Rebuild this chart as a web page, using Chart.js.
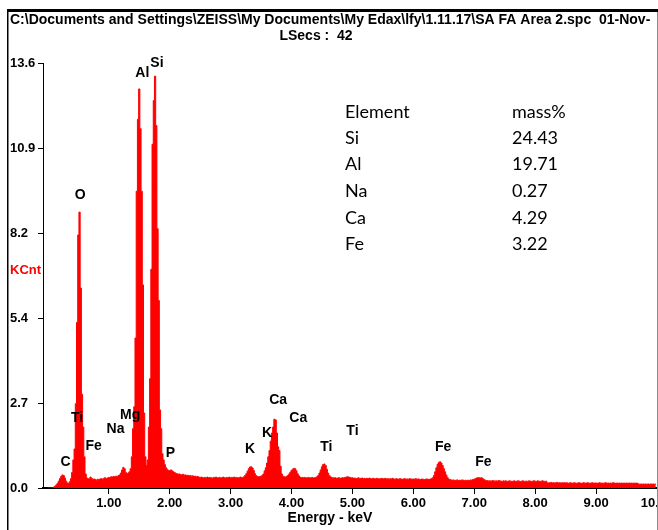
<!DOCTYPE html>
<html>
<head>
<meta charset="utf-8">
<script src="https://cdn.jsdelivr.net/npm/chart.js@4/dist/chart.umd.min.js"></script>
<style>
  html, body { margin: 0; padding: 0; background: #fff; overflow: hidden; }
  canvas { display: block; }
</style>
</head>
<body>
<canvas id="spectrum" width="658" height="530"></canvas>
<script>
// EDS spectrum, 0.02 keV per channel, counts in KCnt (one row = 0.5 keV)
const BIN_KEV = 0.02;
const counts = [
  0, 0, 0, 0, 0.01, 0.03, 0.06, 0.10, 0.15, 0.22, 0.30, 0.37, 0.42, 0.40, 0.32, 0.22, 0.16, 0.15, 0.20, 0.30, 0.50, 0.90, 1.25, 2.70, 5.30,
  8.10, 8.83, 6.40, 3.00, 1.95, 1.00, 0.45, 0.32, 0.30, 0.29, 0.35, 0.31, 0.26, 0.29, 0.27, 0.25, 0.28, 0.27, 0.29, 0.30, 0.28, 0.31, 0.33, 0.30, 0.32,
  0.34, 0.33, 0.36, 0.35, 0.37, 0.36, 0.38, 0.37, 0.40, 0.42, 0.48, 0.58, 0.66, 0.62, 0.50, 0.46, 0.48, 0.52, 0.62, 1.00, 1.90, 2.60, 4.80, 9.50, 11.80,
  12.77, 11.50, 9.50, 6.50, 2.40, 1.00, 0.72, 0.90, 1.95, 3.50, 7.00, 11.00, 12.40, 13.18, 11.60, 8.30, 6.00, 2.50, 1.90, 1.10, 0.90, 0.75, 0.65, 0.60, 0.56,
  0.56, 0.58, 0.55, 0.52, 0.50, 0.47, 0.46, 0.44, 0.45, 0.43, 0.42, 0.44, 0.41, 0.42, 0.40, 0.41, 0.39, 0.40, 0.38, 0.39, 0.37, 0.38, 0.36, 0.37, 0.35,
  0.33, 0.35, 0.34, 0.32, 0.34, 0.33, 0.35, 0.32, 0.34, 0.33, 0.31, 0.34, 0.33, 0.35, 0.32, 0.33, 0.34, 0.32, 0.33, 0.35, 0.33, 0.32, 0.34, 0.33, 0.35,
  0.33, 0.34, 0.32, 0.35, 0.33, 0.34, 0.32, 0.33, 0.35, 0.34, 0.33, 0.36, 0.40, 0.46, 0.54, 0.62, 0.67, 0.68, 0.64, 0.56, 0.46, 0.40, 0.37, 0.36, 0.37,
  0.38, 0.40, 0.45, 0.55, 0.65, 0.80, 1.00, 1.20, 1.50, 1.76, 1.95, 2.20, 2.18, 1.76, 1.32, 1.20, 0.70, 0.45, 0.38, 0.36, 0.35, 0.37, 0.40, 0.44, 0.50,
  0.56, 0.60, 0.63, 0.62, 0.55, 0.46, 0.39, 0.35, 0.33, 0.34, 0.33, 0.34, 0.32, 0.33, 0.34, 0.32, 0.33, 0.34, 0.32, 0.33, 0.34, 0.36, 0.40, 0.48, 0.58,
  0.68, 0.75, 0.77, 0.72, 0.60, 0.48, 0.40, 0.36, 0.34, 0.33, 0.32, 0.33, 0.31, 0.32, 0.33, 0.31, 0.32, 0.33, 0.32, 0.34, 0.35, 0.36, 0.35, 0.34, 0.32,
  0.33, 0.31, 0.32, 0.30, 0.31, 0.33, 0.30, 0.31, 0.32, 0.30, 0.31, 0.29, 0.31, 0.30, 0.32, 0.30, 0.29, 0.31, 0.30, 0.29, 0.31, 0.30, 0.29, 0.30, 0.31,
  0.29, 0.30, 0.31, 0.29, 0.30, 0.28, 0.30, 0.29, 0.31, 0.29, 0.28, 0.30, 0.29, 0.28, 0.30, 0.29, 0.28, 0.29, 0.30, 0.28, 0.29, 0.28, 0.30, 0.29, 0.28,
  0.29, 0.28, 0.30, 0.28, 0.29, 0.28, 0.27, 0.29, 0.28, 0.27, 0.28, 0.29, 0.28, 0.27, 0.29, 0.30, 0.33, 0.40, 0.52, 0.65, 0.76, 0.82, 0.84, 0.80, 0.72,
  0.62, 0.52, 0.42, 0.34, 0.29, 0.27, 0.26, 0.25, 0.26, 0.24, 0.25, 0.26, 0.24, 0.25, 0.24, 0.26, 0.25, 0.24, 0.25, 0.23, 0.25, 0.24, 0.26, 0.25, 0.27,
  0.28, 0.30, 0.32, 0.33, 0.33, 0.32, 0.33, 0.30, 0.27, 0.25, 0.23, 0.24, 0.22, 0.23, 0.22, 0.24, 0.23, 0.22, 0.23, 0.22, 0.24, 0.23, 0.22, 0.21, 0.23,
  0.22, 0.23, 0.21, 0.22, 0.23, 0.22, 0.21, 0.22, 0.23, 0.21, 0.22, 0.23, 0.22, 0.21, 0.22, 0.23, 0.21, 0.22, 0.22, 0.21, 0.23, 0.22, 0.21, 0.22, 0.23,
  0.22, 0.21, 0.23, 0.22, 0.21, 0.22, 0.23, 0.22, 0.21, 0.22, 0.17, 0.16, 0.17, 0.18, 0.16, 0.17, 0.16, 0.17, 0.18, 0.16, 0.17, 0.16, 0.17, 0.16, 0.17,
  0.16, 0.17, 0.15, 0.16, 0.17, 0.16, 0.15, 0.17, 0.16, 0.15, 0.16, 0.17, 0.16, 0.15, 0.16, 0.17, 0.15, 0.16, 0.17, 0.16, 0.15, 0.16, 0.17, 0.15, 0.16,
  0.16, 0.15, 0.16, 0.17, 0.15, 0.16, 0.15, 0.16, 0.17, 0.15, 0.16, 0.15, 0.16, 0.15, 0.17, 0.16, 0.15, 0.16, 0.15, 0.16, 0.15, 0.16, 0.15, 0.16, 0.15,
  0.16, 0.15, 0.16, 0.15, 0.16, 0.15, 0.16, 0.15, 0.16, 0.15, 0.13, 0.12, 0.13, 0.12, 0.13, 0.12, 0.13, 0.12, 0.13, 0.12, 0.13, 0.12, 0.13, 0.12, 0.13
];

// Axis ticks
const xTicks = [1, 2, 3, 4, 5, 6, 7, 8, 9, 10];
const yTicks = [0, 2.72, 5.44, 8.16, 10.88, 13.6];

// Element line markers: name, energy (keV) and label height (KCnt)
const peakNames  = ['C', 'O', 'Ti', 'Fe', 'Na', 'Mg', 'Al', 'Si', 'P', 'K', 'K', 'Ca', 'Ca', 'Ti', 'Ti', 'Fe', 'Fe'];
const peakEnergy = [0.29, 0.53, 0.48, 0.75, 1.11, 1.35, 1.55, 1.79, 2.01, 3.32, 3.60, 3.78, 4.11, 4.57, 5.00, 6.49, 7.15];
const peakLabelY = [0.83, 9.38, 2.24, 1.34, 1.88, 2.34, 13.29, 13.58, 1.12, 1.25, 1.76, 2.82, 2.24, 1.31, 1.82, 1.31, 0.83];

// Quantification table
const elements = ['Si', 'Al', 'Na', 'Ca', 'Fe'];
const massPct  = [24.43, 19.71, 0.27, 4.29, 3.22];

const titleLine1 = 'C:\\Documents and Settings\\ZEISS\\My Documents\\My Edax\\lfy\\1.11.17\\SA FA Area 2.spc  01-Nov-';
const titleLine2 = 'LSecs :  42';

const SANS = '"Liberation Sans", Arial, Helvetica, sans-serif';
const BOLD14 = 'bold 14px ' + SANS;

const decorations = {
  id: 'decorations',
  beforeDraw(chart) {
    const ctx = chart.ctx;
    ctx.save();
    ctx.fillStyle = '#fff';
    ctx.fillRect(0, 0, chart.width, chart.height);
    ctx.restore();
  },
  afterDraw(chart) {
    const { ctx, scales: { x, y } } = chart;
    ctx.save();

    // outer frame
    ctx.fillStyle = '#000';
    ctx.fillRect(7, 9, 651, 3);
    ctx.fillRect(7, 9, 1.5, 521);
    ctx.fillStyle = '#8a8a8a';
    ctx.fillRect(657, 12, 1, 518);

    // header
    ctx.fillStyle = '#000';
    ctx.font = BOLD14;
    ctx.textBaseline = 'middle';
    ctx.save();
    ctx.beginPath();
    ctx.rect(8, 12, 649, 40);
    ctx.clip();
    ctx.textAlign = 'left';
    ctx.fillText(titleLine1, 10, 20);
    ctx.restore();
    ctx.textAlign = 'center';
    ctx.fillText(titleLine2, 316, 36);

    // x-axis title
    ctx.textAlign = 'center';
    ctx.fillText('Energy - keV', 330, 518);

    // element markers
    peakNames.forEach((name, i) => {
      ctx.fillText(name, x.getPixelForValue(peakEnergy[i]), y.getPixelForValue(peakLabelY[i]));
    });

    // y-axis unit
    ctx.font = 'bold 13px ' + SANS;
    ctx.fillStyle = '#ff0000';
    ctx.textAlign = 'left';
    ctx.fillText('KCnt', 10, 270);

    // quantification table
    ctx.fillStyle = '#000';
    ctx.font = '18px Lato, "Open Sans", sans-serif';
    ctx.fillText('Element', 345, 112);
    ctx.fillText('mass%', 512, 112);
    elements.forEach((el, i) => {
      const rowY = 138 + i * 26.6;
      ctx.fillText(el, 345, rowY);
      ctx.fillText(massPct[i].toFixed(2), 512, rowY);
    });

    ctx.restore();
  }
};

new Chart(document.getElementById('spectrum'), {
  type: 'line',
  data: {
    datasets: [{
      data: counts.map((c, i) => ({ x: i * BIN_KEV, y: c })),
      stepped: 'middle',
      fill: 'origin',
      borderColor: '#ff0000',
      backgroundColor: '#ff0000',
      borderWidth: 1,
      pointRadius: 0
    }]
  },
  options: {
    responsive: false,
    devicePixelRatio: 1,
    animation: false,
    events: [],
    layout: { padding: { left: 10, right: 1, top: 63, bottom: 0 } },
    plugins: { legend: { display: false }, tooltip: { enabled: false } },
    scales: {
      x: {
        type: 'linear',
        min: -0.08,
        max: 10,
        z: 1,
        afterBuildTicks: s => { s.ticks = xTicks.map(v => ({ value: v })); },
        afterFit: s => { s.height = 42; s.paddingLeft = 0; s.paddingRight = 0; },
        ticks: {
          autoSkip: false,
          maxRotation: 0,
          color: '#000',
          padding: 2,
          font: { family: SANS, size: 13, weight: 'bold' },
          callback: v => Number(v).toFixed(2)
        },
        grid: { drawOnChartArea: false, drawTicks: true, tickLength: 6, color: '#000' },
        border: { display: true, color: '#000', width: 2 }
      },
      y: {
        min: 0,
        max: 13.6,
        z: 1,
        afterBuildTicks: s => { s.ticks = yTicks.map(v => ({ value: v })); },
        afterFit: s => { s.width = 33; s.paddingTop = 0; s.paddingBottom = 0; },
        ticks: {
          crossAlign: 'far',
          color: '#000',
          padding: 0,
          font: { family: SANS, size: 13, weight: 'bold' },
          callback: v => Number(v).toFixed(1)
        },
        grid: { drawOnChartArea: false, drawTicks: true, tickLength: 5, color: '#000' },
        border: { display: true, color: '#000', width: 1 }
      }
    }
  },
  plugins: [decorations]
});
</script>
</body>
</html>
